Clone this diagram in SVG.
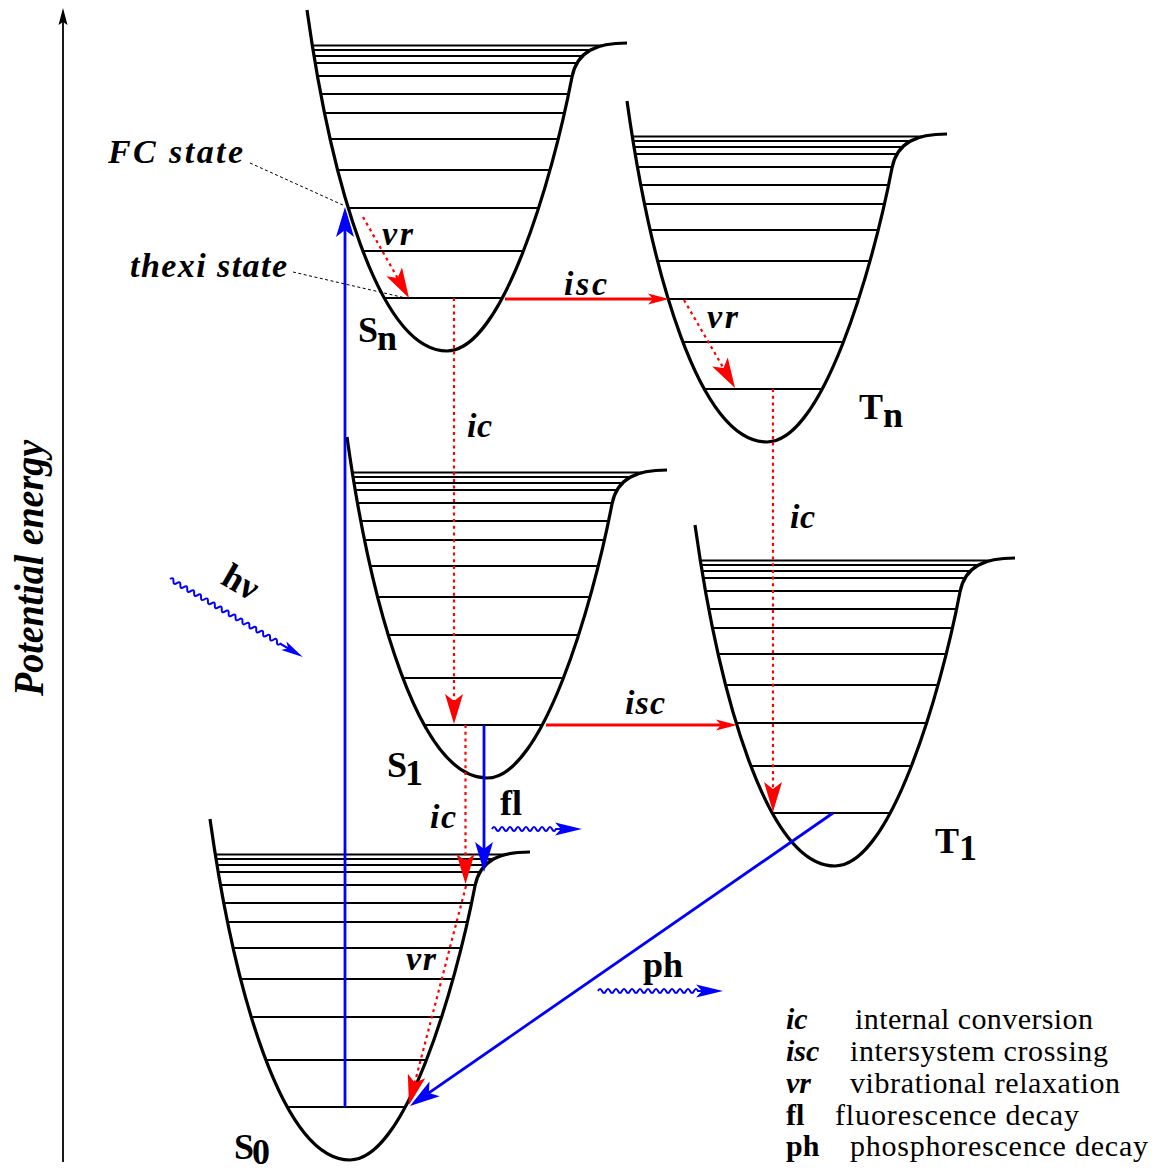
<svg xmlns="http://www.w3.org/2000/svg" width="1155" height="1171" viewBox="0 0 1155 1171">
<style>
text{font-family:"Liberation Serif","Times New Roman",serif;font-variant-ligatures:none}
.well{fill:none;stroke:#000;stroke-width:3.2;stroke-linejoin:round}
.lev{fill:none;stroke:#000;stroke-width:1.9}
.st{font-weight:bold;font-size:36px}
.lbl{font-weight:bold;font-style:italic;font-size:34px}
.lgb{font-weight:bold;font-style:italic;font-size:30px}
.lgu{font-weight:bold;font-size:30px}
.lg{font-size:30px}
.blue{fill:none;stroke:#00f;stroke-width:2.8}
.redS{fill:none;stroke:#f00;stroke-width:3}
.redD{fill:none;stroke:#f00;stroke-width:2.2;stroke-dasharray:3 3.7}
.lead{fill:none;stroke:#000;stroke-width:1;stroke-dasharray:3 2.5}
.wave{fill:none;stroke:#00f;stroke-width:2}
</style>
<defs>
<clipPath id="wellClip"><path d="M-140,-341 C-116,-170 -68,0 0,0 C55,0 105,-170 125,-274 C130,-300 150,-308 180,-308 L185,-350 L-145,-350 Z"/></clipPath>
<marker id="ahRed" markerUnits="userSpaceOnUse" viewBox="-31 -10 32 20" markerWidth="32" markerHeight="20" refX="-20" refY="0" orient="auto"><path d="M0,0 L-30,-9 L-23,0 L-30,9 Z" fill="#f00"/></marker>
<marker id="ahBlue" markerUnits="userSpaceOnUse" viewBox="-31 -10 32 20" markerWidth="32" markerHeight="20" refX="-20" refY="0" orient="auto"><path d="M0,0 L-30,-9 L-23,0 L-30,9 Z" fill="#00f"/></marker>
<marker id="ahRedS" markerUnits="userSpaceOnUse" viewBox="-22 -7 23 14" markerWidth="23" markerHeight="14" refX="-12" refY="0" orient="auto"><path d="M0,0 L-21,-5.5 L-16,0 L-21,5.5 Z" fill="#f00"/></marker>
<marker id="ahWave" markerUnits="userSpaceOnUse" viewBox="-28 -8 29 16" markerWidth="29" markerHeight="16" refX="-15" refY="0" orient="auto"><path d="M0,0 L-27,-6.5 L-21,0 L-27,6.5 Z" fill="#00f"/></marker>
<marker id="ahHv" markerUnits="userSpaceOnUse" viewBox="-23 -6 24 12" markerWidth="24" markerHeight="12" refX="-12" refY="0" orient="auto"><path d="M0,0 L-22,-5 L-17,0 L-22,5 Z" fill="#00f"/></marker>
<marker id="ahAxis" markerUnits="userSpaceOnUse" viewBox="-18 -6 19 12" markerWidth="19" markerHeight="12" refX="-10" refY="0" orient="auto"><path d="M0,0 L-17,-4.5 L-14,0 L-17,4.5 Z" fill="#000"/></marker>
</defs>
<rect width="1155" height="1171" fill="#fff"/>

<g id="axis">
<path d="M63,1162 L63,18" fill="none" stroke="#000" stroke-width="1.8" marker-end="url(#ahAxis)"/>
<text transform="translate(43,568) rotate(-90)" text-anchor="middle" font-weight="bold" font-style="italic" font-size="42" textLength="256" lengthAdjust="spacingAndGlyphs">Potential energy</text>
</g>

<g id="Sn" transform="translate(447,351)">
<path class="lev" clip-path="url(#wellClip)" d="M-150,-53H190M-150,-100H190M-150,-143H190M-150,-181H190M-150,-212H190M-150,-238H190M-150,-257H190M-150,-275H190M-150,-288H190M-150,-295H190M-150,-301H190M-150,-305.5H190"/>
<path class="well" d="M-140,-341 C-116,-170 -68,0 0,0 C55,0 105,-170 125,-274 C130,-300 150,-308 180,-308"/>
<text class="st" x="-89" y="-9">S</text><text class="st" x="-70" y="-1">n</text>
</g>

<g id="Tn" transform="translate(767,442)">
<path class="lev" clip-path="url(#wellClip)" d="M-150,-53H190M-150,-100H190M-150,-143H190M-150,-181H190M-150,-212H190M-150,-238H190M-150,-257H190M-150,-275H190M-150,-288H190M-150,-295H190M-150,-301H190M-150,-305.5H190"/>
<path class="well" d="M-140,-341 C-116,-170 -68,0 0,0 C55,0 105,-170 125,-274 C130,-300 150,-308 180,-308"/>
<text class="st" x="92" y="-23">T</text><text class="st" x="116" y="-15">n</text>
</g>

<g id="S1" transform="translate(487,778)">
<path class="lev" clip-path="url(#wellClip)" d="M-150,-53H190M-150,-100H190M-150,-143H190M-150,-181H190M-150,-212H190M-150,-238H190M-150,-257H190M-150,-275H190M-150,-288H190M-150,-295H190M-150,-301H190M-150,-305.5H190"/>
<path class="well" d="M-140,-341 C-116,-170 -68,0 0,0 C55,0 105,-170 125,-274 C130,-300 150,-308 180,-308"/>
<text class="st" x="-100" y="-1">S</text><text class="st" x="-82" y="7">1</text>
</g>

<g id="T1" transform="translate(835,866)">
<path class="lev" clip-path="url(#wellClip)" d="M-150,-53H190M-150,-100H190M-150,-143H190M-150,-181H190M-150,-212H190M-150,-238H190M-150,-257H190M-150,-275H190M-150,-288H190M-150,-295H190M-150,-301H190M-150,-305.5H190"/>
<path class="well" d="M-140,-341 C-116,-170 -68,0 0,0 C55,0 105,-170 125,-274 C130,-300 150,-308 180,-308"/>
<text class="st" x="100" y="-13">T</text><text class="st" x="124" y="-6">1</text>
</g>

<g id="S0" transform="translate(350,1160)">
<path class="lev" clip-path="url(#wellClip)" d="M-150,-53H190M-150,-100H190M-150,-143H190M-150,-181H190M-150,-212H190M-150,-238H190M-150,-257H190M-150,-275H190M-150,-288H190M-150,-295H190M-150,-301H190M-150,-305.5H190"/>
<path class="well" d="M-140,-341 C-116,-170 -68,0 0,0 C55,0 105,-170 125,-274 C130,-300 150,-308 180,-308"/>
<text class="st" x="-116" y="-1">S</text><text class="st" x="-98" y="4" font-size="33">0</text>
</g>

<g id="connectors">
<path class="blue" d="M345,1107 L345,227" marker-end="url(#ahBlue)"/>
<path class="redD" d="M363,217 L399.1,280.6" marker-end="url(#ahRed)"/>
<path class="redS" d="M505,299 L657,299" marker-end="url(#ahRedS)"/>
<path class="redD" d="M454,298 L454,704" marker-end="url(#ahRed)"/>
<path class="redD" d="M684,300 L725,370.7" marker-end="url(#ahRed)"/>
<path class="redD" d="M773,389 L773,792" marker-end="url(#ahRed)"/>
<path class="redS" d="M546,725 L725,725" marker-end="url(#ahRedS)"/>
<path class="blue" d="M484,725 L484,852" marker-end="url(#ahBlue)"/>
<path class="redD" d="M465.5,725 L465.5,864" marker-end="url(#ahRed)"/>
<path class="redD" d="M466,886 L414,1085.6" marker-end="url(#ahRed)"/>
<path class="blue" stroke-width="2.2" d="M833,813 L426.4,1094.6" marker-end="url(#ahBlue)"/>
<path class="lead" d="M250,163 L345,206"/>
<path class="lead" d="M293,272 L410,299"/>
<path class="wave" d="M492,829 q2,-4 4,0 t4,0 t4,0 t4,0 t4,0 t4,0 t4,0 t4,0 t4,0 t4,0 t4,0 t4,0 t4,0 t4,0 t4,0 t4,0 L567,829" marker-end="url(#ahWave)"/>
<path class="wave" d="M598,991 q2,-4 4,0 t4,0 t4,0 t4,0 t4,0 t4,0 t4,0 t4,0 t4,0 t4,0 t4,0 t4,0 t4,0 t4,0 t4,0 t4,0 t4,0 t4,0 t4,0 t4,0 t4,0 t4,0 t4,0 t4,0 t4,0 L708,991" marker-end="url(#ahWave)"/>
<path class="wave" transform="translate(170,579) rotate(30.4)" d="M0,0 q2,-4 4,0 t4,0 t4,0 t4,0 t4,0 t4,0 t4,0 t4,0 t4,0 t4,0 t4,0 t4,0 t4,0 t4,0 t4,0 t4,0 t4,0 t4,0 t4,0 t4,0 t4,0 t4,0 t4,0 t4,0 t4,0 t4,0 t4,0 t4,0 t4,0 t4,0 t4,0 t4,0 L142,0" marker-end="url(#ahHv)"/>
</g>

<g id="labels">
<text class="lbl" x="108" y="163" textLength="135" lengthAdjust="spacing">FC state</text>
<text class="lbl" x="130" y="277" textLength="157" lengthAdjust="spacing">thexi state</text>
<text class="lbl" x="382" y="245" textLength="31" lengthAdjust="spacing">vr</text>
<text class="lbl" x="564" y="295" textLength="43" lengthAdjust="spacing">isc</text>
<text class="lbl" x="707" y="328" textLength="31" lengthAdjust="spacing">vr</text>
<text class="lbl" x="467" y="437" textLength="25" lengthAdjust="spacing">ic</text>
<text class="lbl" x="790" y="528" textLength="25" lengthAdjust="spacing">ic</text>
<text class="lbl" x="625" y="714" textLength="40" lengthAdjust="spacing">isc</text>
<text class="lbl" x="430" y="828" textLength="26" lengthAdjust="spacing">ic</text>
<text class="lbl" x="406" y="970" textLength="30" lengthAdjust="spacing">vr</text>
<text class="st" x="500" y="815">fl</text>
<text class="st" x="643" y="977">ph</text>
<text class="st" transform="translate(235,592) rotate(30)" text-anchor="middle" font-size="30">hν</text>
</g>

<g id="legend">
<text class="lgb" x="786" y="1029">ic</text>
<text class="lg" x="855" y="1029" textLength="238" lengthAdjust="spacing">internal conversion</text>
<text class="lgb" x="786" y="1061">isc</text>
<text class="lg" x="850" y="1061" textLength="258" lengthAdjust="spacing">intersystem crossing</text>
<text class="lgb" x="786" y="1093">vr</text>
<text class="lg" x="850" y="1093" textLength="270" lengthAdjust="spacing">vibrational relaxation</text>
<text class="lgu" x="786" y="1125">fl</text>
<text class="lg" x="835" y="1125" textLength="244" lengthAdjust="spacing">fluorescence decay</text>
<text class="lgu" x="786" y="1156">ph</text>
<text class="lg" x="850" y="1156" textLength="298" lengthAdjust="spacing">phosphorescence decay</text>
</g>
</svg>
